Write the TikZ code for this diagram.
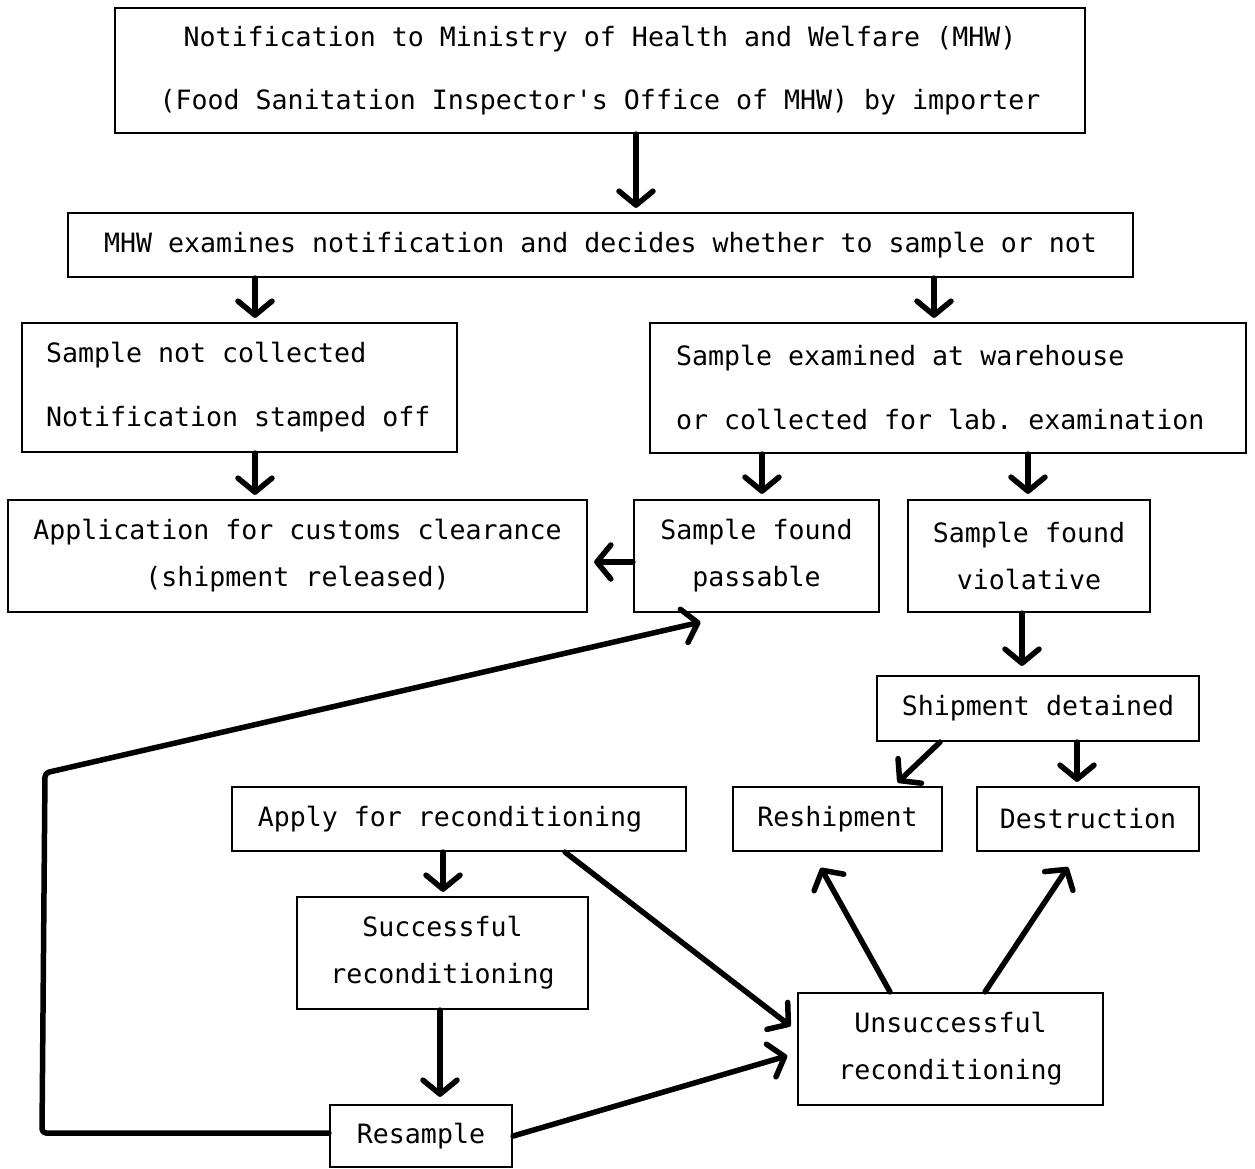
\documentclass[tikz,border=0pt]{standalone}
\usepackage{fontspec}
\setmonofont{DejaVu Sans Mono}[WordSpace={1,0,0}]
\usetikzlibrary{arrows.meta,calc}
\begin{document}
\begin{tikzpicture}[x=1pt,y=-1pt,
  box/.style={draw, line width=2.2pt, inner sep=0pt, font=\ttfamily\fontsize{26.6}{47}\selectfont, align=center},
  flow/.style={line width=5.5pt, line cap=round, line join=round,
    -{Straight Barb[length=14pt,width=34pt,line cap=round,line join=round]}}]
\useasboundingbox (0,0) rectangle (1255,1169);
\node[box, minimum width=970pt, minimum height=125pt] (top) at (600,70.5)
  {Notification to Ministry of Health and Welfare (MHW)\\[16pt](Food Sanitation Inspector's Office of MHW) by importer};
\node[box, minimum width=1065pt, minimum height=64pt] (exam) at (600.5,245)
  {MHW examines notification and decides whether to sample or not};
\node[box, minimum width=435pt, minimum height=129pt, text width=387pt, align=flush left] (notc) at (239.5,387.5)
  {\spaceskip=0pt\relax Sample not collected\\[17pt]Notification stamped off};
\node[box, minimum width=596pt, minimum height=130pt, text width=544pt, align=flush left] (coll) at (948,388)
  {\spaceskip=0pt\relax Sample examined at warehouse\\[17pt]or collected for lab. examination};
\node[box, minimum width=579pt, minimum height=112pt] (appl) at (297.5,556)
  {Application for customs clearance\\(shipment released)};
\node[box, minimum width=245pt, minimum height=112pt] (pass) at (756.5,556)
  {Sample found\\passable};
\node[box, minimum width=242pt, minimum height=112pt] (viol) at (1029,556)
  {Sample found\\violative};
\node[box, minimum width=322pt, minimum height=65pt] (det) at (1038,708.5)
  {Shipment detained};
\node[box, minimum width=209pt, minimum height=64pt] (resh) at (837.5,819)
  {Reshipment};
\node[box, minimum width=222pt, minimum height=64pt] (dest) at (1088,819)
  {Destruction};
\node[box, minimum width=454pt, minimum height=64pt] (reco) at (459,819)
  {Apply for reconditioning\hspace*{18pt}};
\node[box, minimum width=291pt, minimum height=112pt] (succ) at (442.5,953)
  {Successful\\reconditioning};
\node[box, minimum width=305pt, minimum height=112pt] (uns) at (950.5,1049)
  {Unsuccessful\\reconditioning};
\node[box, minimum width=182pt, minimum height=62pt] (resa) at (421,1136)
  {Resample};
% connectors
\draw[flow, shorten >=4pt] (636,0 |- top.south) -- (636,0 |- exam.north);
\draw[flow, shorten >=4pt] (255,0 |- exam.south) -- (255,0 |- notc.north);
\draw[flow, shorten >=4pt] (934,0 |- exam.south) -- (934,0 |- coll.north);
\draw[flow, shorten >=4pt] (255,0 |- notc.south) -- (255,0 |- appl.north);
\draw[flow, shorten >=5pt] (762,0 |- coll.south) -- (762,0 |- pass.north);
\draw[flow, shorten >=5pt] (1028,0 |- coll.south) -- (1028,0 |- viol.north);
\draw[flow, shorten >=6pt] (pass.west |- 0,562) -- (appl.east |- 0,562);
\draw[flow, shorten >=9pt] (1022,0 |- viol.south) -- (1022,0 |- det.north);
\draw[flow, shorten >=5pt] (940,0 |- det.south) -- (894,0 |- resh.north);
\draw[flow, shorten >=4pt] (1077,0 |- det.south) -- (1077,0 |- dest.north);
\draw[flow, shorten >=4pt] (443,0 |- reco.south) -- (443,0 |- succ.north);
\draw[flow, shorten >=7pt] (440,0 |- succ.south) -- (440,0 |- resa.north);
\draw[flow, shorten >=8pt] (565,0 |- reco.south) -- (uns.west |- 0,1031);
\draw[flow, shorten >=10pt] (resa.east) -- (uns.west |- 0,1053);
\draw[flow, shorten >=18pt] (890,0 |- uns.north) -- (812,0 |- resh.south);
\draw[flow, shorten >=18pt] (985,0 |- uns.north) -- (1078,0 |- dest.south);
\draw[flow, rounded corners=4pt] (resa.west |- 0,1133) -- (42,1133) -- (45,773) -- ($(pass.south)+(-56,9)$);
\end{tikzpicture}
\end{document}
